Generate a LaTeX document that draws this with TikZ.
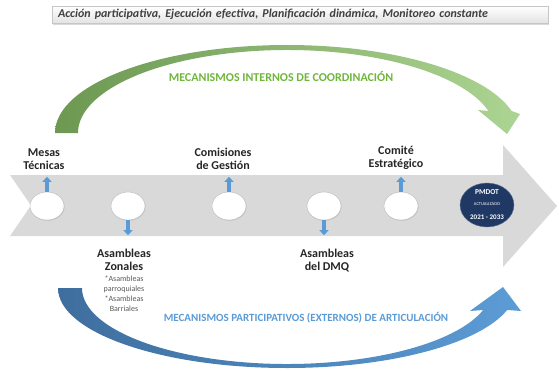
\documentclass[tikz,border=0pt]{standalone}
\usepackage{fontspec}
\setmainfont{Carlito}
\usetikzlibrary{positioning}
\usetikzlibrary{shapes.geometric}
\usetikzlibrary{shadows}
\usetikzlibrary{arrows.meta}
\definecolor{flechagris}{RGB}{217,217,217}
\definecolor{verdeosc}{RGB}{108,152,82}
\definecolor{verdecla}{RGB}{172,212,146}
\definecolor{verdetxt}{RGB}{112,182,60}
\definecolor{azulosc}{RGB}{62,110,158}
\definecolor{azulcla}{RGB}{92,156,214}
\definecolor{azultxt}{RGB}{91,155,213}
\definecolor{azulmarino}{RGB}{31,56,100}
\tikzset{hito/.style = {ellipse, draw=gray!55, fill=white, line width=0.4pt, minimum width=34pt, minimum height=28pt, inner sep=0,
    drop shadow={opacity=0.2, shadow xshift=0.6pt, shadow yshift=-0.8pt}}}
\tikzset{etiq/.style = {font=\fontsize{12}{13}\selectfont\bfseries, text=black!85, align=center, inner sep=0}}
\tikzset{subetiq/.style = {font=\fontsize{8}{10}\selectfont, text=black!65, align=center, inner sep=0}}
\tikzset{flechita/.style = {azultxt, line width=3.6pt, -{Triangle[width=9pt, length=5pt]}}}
\tikzset{lema/.style = {rectangle, draw=gray!45, line width=0.3pt, top color=white, bottom color=gray!22,
    minimum height=17pt, text width=484pt, inner xsep=6pt, inner ysep=0pt, align=left,
    font=\fontsize{12}{13}\selectfont\bfseries\itshape, text=black!75,
    drop shadow={opacity=0.3, shadow xshift=1pt, shadow yshift=-1.5pt}}}
\tikzset{pmdot/.style = {ellipse, fill=azulmarino, draw=azulmarino!70, text=white, minimum width=54pt, minimum height=44pt,
    inner sep=0, align=center}}

\begin{document}
\begin{tikzpicture}[x=1pt, y=-1pt]
    \useasboundingbox (0,0) rectangle (559,370);

    \fill [flechagris] (10,175) -- (503,175) -- (503,145) -- (557,206) -- (503,267) -- (503,236) -- (10,236) -- (31,205.5) -- cycle;

    \shade [left color=verdeosc, right color=verdecla] (55,133) arc [start angle=180, end angle=345.52, x radius=232, y radius=88]
      -- (520,114) -- (507,134) -- (478,110) -- (488.5,111) arc [start angle=344.63, end angle=180, x radius=209, y radius=83] -- cycle;
    \shade [left color=azulosc, right color=azulcla] (58,288) arc [start angle=180, end angle=15.96, x radius=229, y radius=80]
      -- (521,311) -- (503,287) -- (470,311) -- (483.2,310) arc [start angle=16.83, end angle=180, x radius=205, y radius=76] -- cycle;

    \node [lema, anchor=west] (lema) at (52,14.5) {Acción participativa, Ejecución efectiva, Planificación dinámica, Monitoreo constante};
    \node [font=\fontsize{12}{13}\selectfont\bfseries, text=verdetxt, inner sep=0] (interno) at (281,76) {MECANISMOS INTERNOS DE COORDINACIÓN};
    \node [font=\fontsize{11}{12}\selectfont\bfseries, text=azultxt, inner sep=0] (externo) at (306,318) {MECANISMOS PARTICIPATIVOS (EXTERNOS) DE ARTICULACIÓN};

    \node [hito] (c1) at (47,206) {};
    \node [hito] (c2) at (128,206) {};
    \node [hito] (c3) at (229,206) {};
    \node [hito] (c4) at (324,206) {};
    \node [hito] (c5) at (401,206) {};
    \node [pmdot] (pm) at (487,205) {{\fontsize{7.5}{8}\selectfont\bfseries PMDOT}\\[-1pt]
      {\fontsize{4.5}{5}\selectfont ACTUALIZADO}\\[2pt]{\fontsize{7}{8}\selectfont\bfseries 2021 - 2033}};

    \coordinate [above=15pt of c1] (u1);
    \coordinate [below=15pt of c2] (d2);
    \coordinate [above=15pt of c3] (u3);
    \coordinate [below=15pt of c4] (d4);
    \coordinate [above=15pt of c5] (u5);
    \draw [flechita] (c1) -- (u1);
    \draw [flechita] (c2) -- (d2);
    \draw [flechita] (c3) -- (u3);
    \draw [flechita] (c4) -- (d4);
    \draw [flechita] (c5) -- (u5);

    \node [etiq, above=22pt of c1, xshift=-3pt] (mesas) {Mesas\\Técnicas};
    \node [etiq, above=22pt of c3, xshift=-6pt] (comisiones) {Comisiones\\de Gestión};
    \node [etiq, above=22pt of c5, xshift=-5pt] (comite) {Comité\\Estratégico};
    \node [etiq, below=29pt of c2, xshift=-4pt] (zonales) {Asambleas\\Zonales};
    \node [subetiq, below=5pt of zonales] (zonsub) {*Asambleas\\parroquiales\\*Asambleas\\Barriales};
    \node [etiq, below=29pt of c4, xshift=3pt] (dmq) {Asambleas\\del DMQ};
\end{tikzpicture}
\end{document}
